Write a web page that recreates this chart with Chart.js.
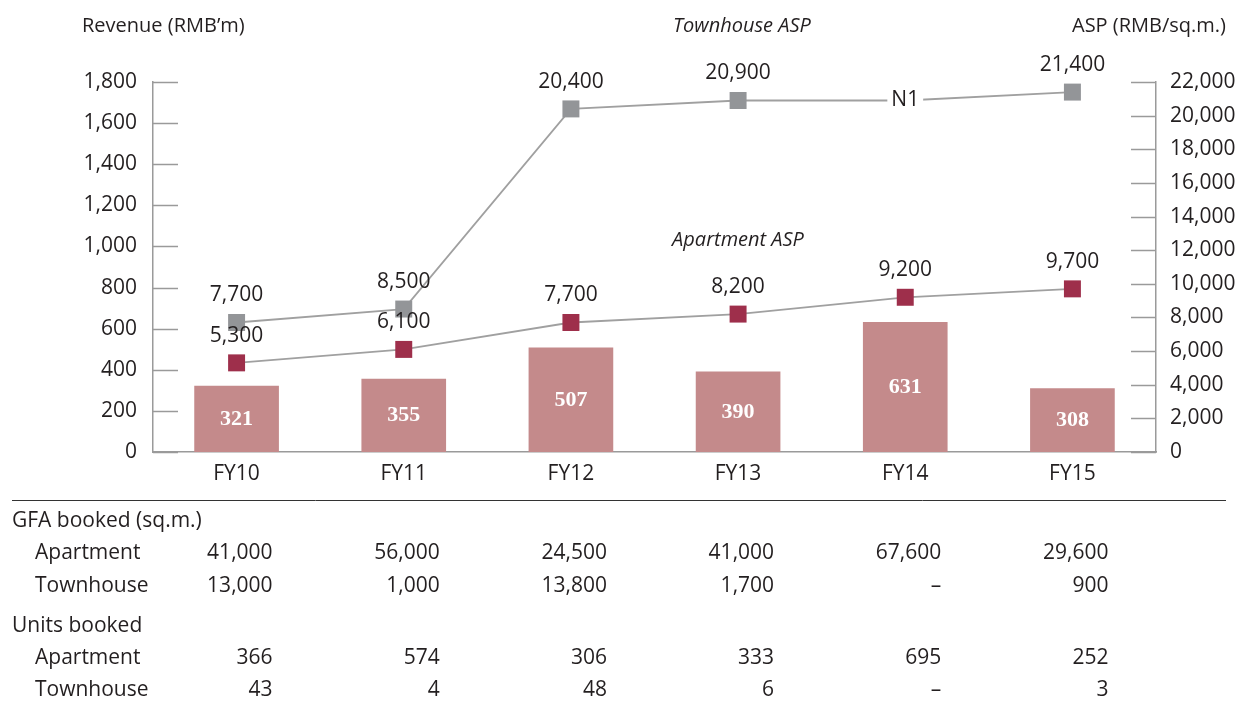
<!DOCTYPE html>
<html>
<head>
<meta charset="utf-8">
<script src="https://cdn.jsdelivr.net/npm/chart.js@4"></script>
<style>
  body { margin: 0; background: #fff; }
</style>
</head>
<body>
<canvas id="revenueChart" width="1240" height="702"></canvas>
<script>
// Financial years along the bottom
const years = ['FY10', 'FY11', 'FY12', 'FY13', 'FY14', 'FY15'];
// Revenue bars (RMB'm)
const revenue = [321, 355, 507, 390, 631, 308];
// ASP lines (RMB/sq.m.)
const townhouseAsp = [7700, 8500, 20400, 20900, 20900, 21400];
const apartmentAsp = [5300, 6100, 7700, 8200, 9200, 9700];
// FY14 townhouse point is shown as note N1 instead of a value
const townhouseNotes = [null, null, null, null, 'N1', null];

// Table under the chart (null = dash)
const gfaApartment = [41000, 56000, 24500, 41000, 67600, 29600];
const gfaTownhouse = [13000, 1000, 13800, 1700, null, 900];
const unitsApartment = [366, 574, 306, 333, 695, 252];
const unitsTownhouse = [43, 4, 48, 6, null, 3];

const sans = '"Open Sans", sans-serif';
const textColour = '#231f20';
const axisGrey = '#9a9a9a';

const fmt = v => (v == null ? '–' : v.toLocaleString('en-US'));

// Everything that isn't a normal chart part: inner ticks, labels, titles, table
const extras = {
    id: 'extras',
    beforeDatasetsDraw(chart) {
        const ctx = chart.ctx;
        const yL = chart.scales.y;
        const yR = chart.scales.y1;
        ctx.save();
        ctx.strokeStyle = axisGrey;
        ctx.lineWidth = 1.5;
        ctx.beginPath();
        yL.ticks.forEach(t => {
            const py = Math.round(yL.getPixelForValue(t.value)) + 0.5;
            ctx.moveTo(yL.right, py);
            ctx.lineTo(yL.right + 25, py);
        });
        yR.ticks.forEach(t => {
            const py = Math.round(yR.getPixelForValue(t.value)) + 0.5;
            ctx.moveTo(yR.left - 25, py);
            ctx.lineTo(yR.left, py);
        });
        ctx.stroke();
        ctx.restore();
    },
    afterDraw(chart) {
        const ctx = chart.ctx;
        const x = chart.scales.x;
        ctx.save();
        ctx.textBaseline = 'middle';

        // bar values, white, in the middle of each bar
        ctx.fillStyle = '#fff';
        ctx.font = 'bold 22px "Liberation Serif", serif';
        ctx.textAlign = 'center';
        chart.getDatasetMeta(0).data.forEach((bar, i) => {
            ctx.fillText(revenue[i], bar.x, (bar.y + bar.base) / 2);
        });

        // line values above the markers
        ctx.font = '21px ' + sans;
        ctx.fillStyle = textColour;
        const lineMeta = [
            [chart.getDatasetMeta(1), townhouseAsp, townhouseNotes],
            [chart.getDatasetMeta(2), apartmentAsp, []]
        ];
        lineMeta.forEach(([meta, values, notes]) => {
            meta.data.forEach((pt, i) => {
                if (notes[i]) {
                    const w = ctx.measureText(notes[i]).width + 8;
                    ctx.fillStyle = '#fff';
                    ctx.fillRect(pt.x - w / 2, pt.y - 12, w, 24);
                    ctx.fillStyle = textColour;
                    ctx.fillText(notes[i], pt.x, pt.y);
                } else {
                    ctx.fillText(fmt(values[i]), pt.x, pt.y - 27);
                }
            });
        });

        // titles
        ctx.font = '20px ' + sans;
        ctx.textAlign = 'left';
        ctx.fillText('Revenue (RMB’m)', 82, 26);
        ctx.textAlign = 'right';
        ctx.fillText('ASP (RMB/sq.m.)', 1226, 26);
        ctx.textAlign = 'center';
        ctx.font = 'italic 20px ' + sans;
        ctx.fillText('Townhouse ASP', 742, 26);
        ctx.fillText('Apartment ASP', 738, 240);

        // separator line
        ctx.strokeStyle = '#333';
        ctx.lineWidth = 1;
        ctx.beginPath();
        ctx.moveTo(12, 500.5);
        ctx.lineTo(1226, 500.5);
        ctx.stroke();

        // table
        const rows = [
            { label: 'GFA booked (sq.m.)', indent: 12, y: 521 },
            { label: 'Apartment', indent: 35, y: 553, values: gfaApartment },
            { label: 'Townhouse', indent: 35, y: 586, values: gfaTownhouse },
            { label: 'Units booked', indent: 12, y: 626 },
            { label: 'Apartment', indent: 35, y: 658, values: unitsApartment },
            { label: 'Townhouse', indent: 35, y: 690, values: unitsTownhouse }
        ];
        ctx.font = '21px ' + sans;
        ctx.fillStyle = textColour;
        rows.forEach(r => {
            ctx.textAlign = 'left';
            ctx.fillText(r.label, r.indent, r.y);
            if (!r.values) return;
            ctx.textAlign = 'right';
            r.values.forEach((v, i) => {
                ctx.fillText(fmt(v), x.getPixelForValue(i) + 36, r.y);
            });
        });
        ctx.restore();
    }
};

const canvas = document.getElementById('revenueChart');
const context = canvas.getContext('2d');

new Chart(context, {
    type: 'bar',
    data: {
        labels: years,
        datasets: [
            {
                type: 'bar',
                label: 'Revenue',
                data: revenue,
                yAxisID: 'y',
                backgroundColor: '#c48a8b',
                barThickness: 84,
                order: 2
            },
            {
                type: 'line',
                label: 'Townhouse ASP',
                data: townhouseAsp,
                yAxisID: 'y1',
                borderColor: '#a0a0a0',
                borderWidth: 1.8,
                tension: 0,
                pointStyle: 'rect',
                pointRadius: townhouseNotes.map(n => (n ? 0 : 12)),
                pointBackgroundColor: '#939598',
                pointBorderWidth: 0,
                order: 0
            },
            {
                type: 'line',
                label: 'Apartment ASP',
                data: apartmentAsp,
                yAxisID: 'y1',
                borderColor: '#a0a0a0',
                borderWidth: 1.8,
                tension: 0,
                pointStyle: 'rect',
                pointRadius: 12,
                pointBackgroundColor: '#9e2f4b',
                pointBorderWidth: 0,
                order: 0
            }
        ]
    },
    options: {
        responsive: false,
        animation: false,
        devicePixelRatio: 1,
        layout: { padding: { top: 82, left: 0, right: 0, bottom: 0 } },
        plugins: {
            legend: { display: false },
            tooltip: { enabled: false }
        },
        scales: {
            x: {
                grid: { display: false, drawTicks: false },
                border: { display: true, color: axisGrey, width: 1.5 },
                ticks: { color: textColour, font: { family: sans, size: 21 }, padding: 9, maxRotation: 0 },
                afterFit: s => { s.height = 250; }
            },
            y: {
                position: 'left',
                min: 0,
                max: 1800,
                grid: { display: false, drawTicks: false },
                border: { display: true, color: axisGrey, width: 1.5 },
                ticks: {
                    stepSize: 200,
                    color: textColour,
                    font: { family: sans, size: 21 },
                    padding: 16,
                    callback: v => v.toLocaleString('en-US')
                },
                afterFit: s => { s.width = 153; }
            },
            y1: {
                position: 'right',
                min: 0,
                max: 22000,
                grid: { display: false, drawTicks: false },
                border: { display: true, color: axisGrey, width: 1.5 },
                ticks: {
                    stepSize: 2000,
                    color: textColour,
                    font: { family: sans, size: 21 },
                    padding: 14,
                    callback: v => v.toLocaleString('en-US')
                },
                afterFit: s => { s.width = 84; }
            }
        }
    },
    plugins: [extras]
});
</script>
</body>
</html>
